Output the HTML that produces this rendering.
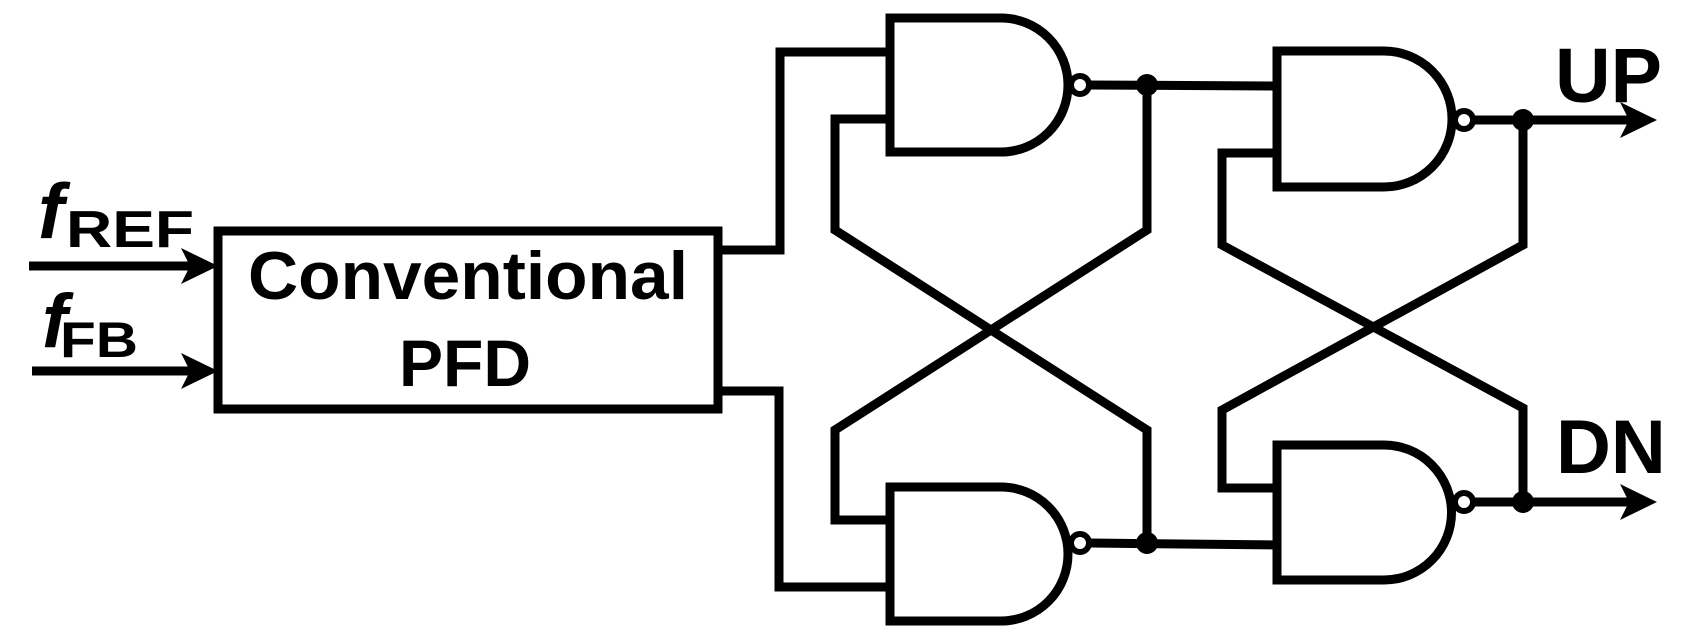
<!DOCTYPE html>
<html><head><meta charset="utf-8"><style>
html,body{margin:0;padding:0;background:#fff;}
svg{display:block;}
text{font-family:"Liberation Sans",Arial,sans-serif;font-weight:bold;fill:#000;}
</style></head><body>
<svg width="1691" height="636" viewBox="0 0 1691 636" xmlns="http://www.w3.org/2000/svg">
<g fill="none" stroke="#000" stroke-width="9" stroke-linejoin="miter">
  <rect x="218" y="231" width="500" height="178"/>
  <line x1="29" y1="266" x2="200" y2="266"/>
  <line x1="32" y1="371" x2="200" y2="371"/>
  <polyline points="718,250 780,250 780,52 890,52"/>
  <polyline points="718,391 779,391 779,587 890,587"/>
  <path d="M890,18 H1001 A67,67 0 0 1 1001,152 H890 Z"/>
  <path d="M890,487 H1001 A67,67 0 0 1 1001,621 H890 Z"/>
  <path d="M1277,51 H1384 A68,68 0 0 1 1384,187 H1277 Z"/>
  <path d="M1277,445 H1384 A67.5,67.5 0 0 1 1384,580 H1277 Z"/>
  <polyline points="890,119 835,119 835,230 1147,430 1147,543"/>
  <polyline points="890,520 835,520 835,430 1147,230 1147,85"/>
  <line x1="1088" y1="85" x2="1277" y2="86"/>
  <line x1="1090" y1="543" x2="1277" y2="545"/>
  <polyline points="1277,153 1222,153 1222,245 1523,408 1523,502"/>
  <polyline points="1277,488 1222,488 1222,410 1523,245 1523,120"/>
  <line x1="1470" y1="120" x2="1630" y2="120"/>
  <line x1="1470" y1="502" x2="1630" y2="502"/>
</g>
<g fill="#fff" stroke="#000" stroke-width="6">
  <circle cx="1080" cy="85" r="9"/>
  <circle cx="1080" cy="543" r="9"/>
  <circle cx="1464" cy="120" r="9"/>
  <circle cx="1464" cy="502" r="9"/>
</g>
<g fill="#000">
  <circle cx="1147" cy="85" r="11"/>
  <circle cx="1147" cy="543" r="11"/>
  <circle cx="1523" cy="120" r="11"/>
  <circle cx="1523" cy="502" r="11"/>
  <polygon points="218,266 181,248 190,266 181,284"/>
  <polygon points="218,371 181,353 190,371 181,389"/>
  <polygon points="1657,120 1620,102 1629,120 1620,138"/>
  <polygon points="1657,502 1620,484 1629,502 1620,520"/>
</g>
<text x="38" y="238" font-size="78" font-style="italic">f</text>
<text x="66" y="247" font-size="52" textLength="128" lengthAdjust="spacingAndGlyphs">REF</text>
<text x="42" y="347" font-size="76" font-style="italic">f</text>
<text x="60" y="357" font-size="50" textLength="78" lengthAdjust="spacingAndGlyphs">FB</text>
<text x="468" y="299" font-size="68" text-anchor="middle" textLength="440" lengthAdjust="spacingAndGlyphs">Conventional</text>
<text x="465" y="386" font-size="66" text-anchor="middle">PFD</text>
<text x="1555" y="102" font-size="77">UP</text>
<text x="1556" y="473" font-size="76">DN</text>
</svg>
</body></html>
